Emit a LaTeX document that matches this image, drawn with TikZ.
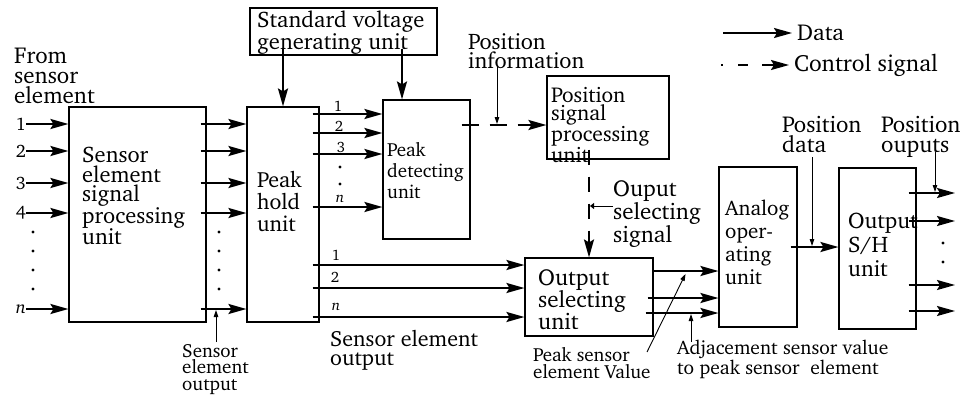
\documentclass[tikz,border=0pt]{standalone}
\usepackage[T1]{fontenc}
\usepackage{charter}
\usetikzlibrary{arrows.meta,fit}
\begin{document}
\begin{tikzpicture}[x=1pt,y=-1pt,
 box/.style={draw, line width=1.1pt, inner sep=0pt},
 txt/.style={inner sep=0pt, anchor=north west, align=left, font=\fontsize{22}{19}\selectfont},
 data/.style={line width=2.1pt, -{Stealth[length=18pt,width=10pt,inset=3pt]}},
 ctrl/.style={data, dash pattern=on 17pt off 11pt},
 ptr/.style={line width=0.9pt, -{Triangle[length=7pt,width=4.5pt]}, shorten >=1pt},
 num/.style={inner sep=0pt, font=\fontsize{18}{18}\selectfont},
 snum/.style={inner sep=0pt, font=\fontsize{15}{15}\selectfont},
 dot/.style={circle, fill, inner sep=0pt, minimum size=3.4pt},
]
\useasboundingbox (0,0) rectangle (965,396);
% ---------- boxes
\node[box, fit={(69,107)(206,322)}] (sesp) {};
\node[box, fit={(247,107)(319,322)}] (ph) {};
\node[box, fit={(250,8)(437,55)}] (svg) {};
\node[box, fit={(383,100)(470,239)}] (pd) {};
\node[box, fit={(547,76)(669,159)}] (psp) {};
\node[box, fit={(525,258)(653,336)}] (os) {};
\node[box, fit={(719,167)(797,327)}] (ao) {};
\node[box, fit={(839,168)(916,329)}] (sh) {};
% ---------- box texts
\node[txt, font=\fontsize{22.5}{19.5}\selectfont] (svg-t) at (257,11) {Standard voltage\\generating unit};
\node[txt, font=\fontsize{22.5}{19.5}\selectfont] (sesp-t) at (82,147) {Sensor\\element\\signal\\processing\\unit};
\node[txt, font=\fontsize{22}{22}\selectfont] (ph-t) at (257,171) {Peak\\hold\\unit};
\node[txt, font=\fontsize{19}{21}\selectfont] (pd-t) at (387,142) {Peak\\detecting\\unit};
\node[txt, font=\fontsize{21.5}{18}\selectfont] (psp-t) at (551,87) {Position\\signal\\processing\\unit};
\node[txt, font=\fontsize{23}{22}\selectfont] (os-t) at (538,270) {Output\\selecting\\unit};
\node[txt, font=\fontsize{21}{23}\selectfont] (ao-t) at (725,200) {Analog\\oper-\\ating\\unit};
\node[txt, font=\fontsize{22.5}{24}\selectfont] (sh-t) at (848,213) {Output\\S/H\\unit};
% ---------- labels
\node[txt, font=\fontsize{23}{20}\selectfont] (from) at (14,48) {From\\sensor\\element};
\node[txt, font=\fontsize{19}{16.5}\selectfont] (seo1) at (182,344) {Sensor\\element\\output};
\node[txt, font=\fontsize{22}{18.5}\selectfont] (seo2) at (330,330) {Sensor element\\output};
\node[txt, font=\fontsize{22.5}{19}\selectfont] (pinfo) at (468,33) {Position\\information};
\node[txt, font=\fontsize{23}{19.5}\selectfont] (oss) at (613,181) {Ouput\\selecting\\signal};
\node[txt, font=\fontsize{19}{17}\selectfont] (pse) at (533,347) {Peak sensor\\element Value};
\node[txt, font=\fontsize{19.5}{20}\selectfont] (adj) at (677,340) {Adjacement sensor value\\to peak sensor\ \ element};
\node[txt, font=\fontsize{23}{20}\selectfont] (pdata) at (782,116) {Position\\data};
\node[txt, font=\fontsize{23}{20}\selectfont] (pout) at (881,116) {Position\\ouputs};
\node[txt, anchor=west, font=\fontsize{23}{19}\selectfont] (ldata) at (797,33) {Data};
\node[txt, anchor=west, font=\fontsize{23.5}{19}\selectfont] (lctrl) at (794,65) {Control signal};
% ---------- legend
\coordinate (lg1) at (723,33);
\coordinate (lg2) at (721,65);
\draw[data, shorten >=5pt] (lg1) -- (ldata.west);
\draw[data, shorten >=5pt, dash pattern=on 2pt off 15pt on 10pt off 14pt on 60pt] (lg2) -- (lctrl.west);
% ---------- y levels
\coordinate (yA1) at (0,114); \coordinate (yA2) at (0,133);
\coordinate (yA3) at (0,154); \coordinate (yAn) at (0,207);
\coordinate (yB1) at (0,265); \coordinate (yB2) at (0,288); \coordinate (yBn) at (0,317);
\coordinate (yC1) at (0,271); \coordinate (yC2) at (0,298); \coordinate (yC3) at (0,313);
\coordinate (yD) at (0,247);
\coordinate (yE1) at (0,193); \coordinate (yE2) at (0,221);
\coordinate (yE3) at (0,285); \coordinate (yE4) at (0,311);
\coordinate (yP) at (0,125);
\coordinate (outx) at (955,0);
% ---------- inputs
\node[num, anchor=east] (i1) at (26,124) {1};
\node[num, anchor=east] (i2) at (26,151) {2};
\node[num, anchor=east] (i3) at (26,183) {3};
\node[num, anchor=east] (i4) at (26,213) {4};
\node[num, anchor=east, font=\fontsize{18}{18}\selectfont\itshape] (i5) at (26,309) {n};
\foreach \k in {1,...,5}{
  \draw[data] (i\k.east) -- (i\k.east -| sesp.west);
  \draw[data, shorten <=-6pt] (i\k.east -| sesp.east) -- (i\k.east -| ph.west);
}
\foreach \y [count=\k] in {232,251,270,289}{
  \node[dot] (dl\k) at (33,\y) {};
  \node[dot] (dm\k) at (219,\y) {};
}
% ---------- peak hold to peak detecting
\foreach \c in {yA1,yA2,yA3,yAn}{
  \draw[data, shorten <=-7pt] (\c -| ph.east) -- (\c -| pd.west);
}
\node[snum] (la1) at (338,106) {1};
\node[snum] (la2) at (339,126) {2};
\node[snum] (la3) at (341,147) {3};
\node[snum, font=\fontsize{15}{15}\selectfont\itshape] (lan) at (340,199) {n};
\node[dot] (dp1) at (340,167) {};
\node[dot] (dp2) at (340,184) {};
% ---------- peak hold to output selecting
\foreach \c in {yB1,yB2,yBn}{
  \draw[data, shorten <=-7pt] (\c -| ph.east) -- (\c -| os.west);
}
\node[snum] (lb1) at (336,255) {1};
\node[snum] (lb2) at (335,277) {2};
\node[snum, font=\fontsize{15}{15}\selectfont\itshape] (lbn) at (336,307) {n};
% ---------- standard voltage
\coordinate (c-sv) at (402,0);
\draw[data, shorten <=-7pt] (svg.south -| ph.north) -- (ph.north);
\draw[data, shorten <=-7pt] (c-sv |- svg.south) -- (c-sv |- pd.north);
% ---------- control signals
\draw[ctrl, shorten <=-9pt] (yP -| pd.east) -- (yP -| psp.west);
\draw[ctrl, dash pattern=on 15pt off 12pt, shorten <=-10pt] (os.north |- psp.south) -- (os.north);
% ---------- output selecting to analog
\draw[data] (yC1 -| os.east) -- (yC1 -| ao.west);
\draw[data, shorten <=-6pt] (yC2 -| os.east) -- (yC2 -| ao.west);
\draw[data, shorten <=-8pt] (yC3 -| os.east) -- (yC3 -| ao.west);
% ---------- analog to S/H
\draw[data, shorten <=-7pt] (yD -| ao.east) -- (yD -| sh.west);
% ---------- outputs
\foreach \c in {yE1,yE2,yE3,yE4}{
  \draw[data, shorten <=-8pt] (\c -| sh.east) -- (\c -| outx);
}
\node[dot] (do1) at (943,243) {};
\node[dot] (do2) at (943,262) {};
% ---------- pointers
\coordinate (c-seo) at (216,342);
\draw[ptr] (c-seo) -- (c-seo |- i5.east);
\coordinate (c-pi) at (497,66);
\draw[ptr] (c-pi) -- (c-pi |- yP);
\coordinate (c-os) at (613,206);
\draw[ptr, -{Triangle[length=4pt,width=6pt]}] (c-os) -- (c-os -| os.north);
\coordinate (c-pse) at (647,352);
\coordinate (c-pse2) at (686,273);
\draw[ptr] (c-pse) -- (c-pse2);
\coordinate (c-adj) at (691,342);
\draw[ptr] (c-adj) -- (c-adj |- yC3);
\coordinate (c-pd) at (812,157);
\draw[ptr] (c-pd) -- (c-pd |- yD);
\coordinate (c-po) at (935,152);
\draw[ptr] (c-po) -- (c-po |- yE1);
\end{tikzpicture}
\end{document}
